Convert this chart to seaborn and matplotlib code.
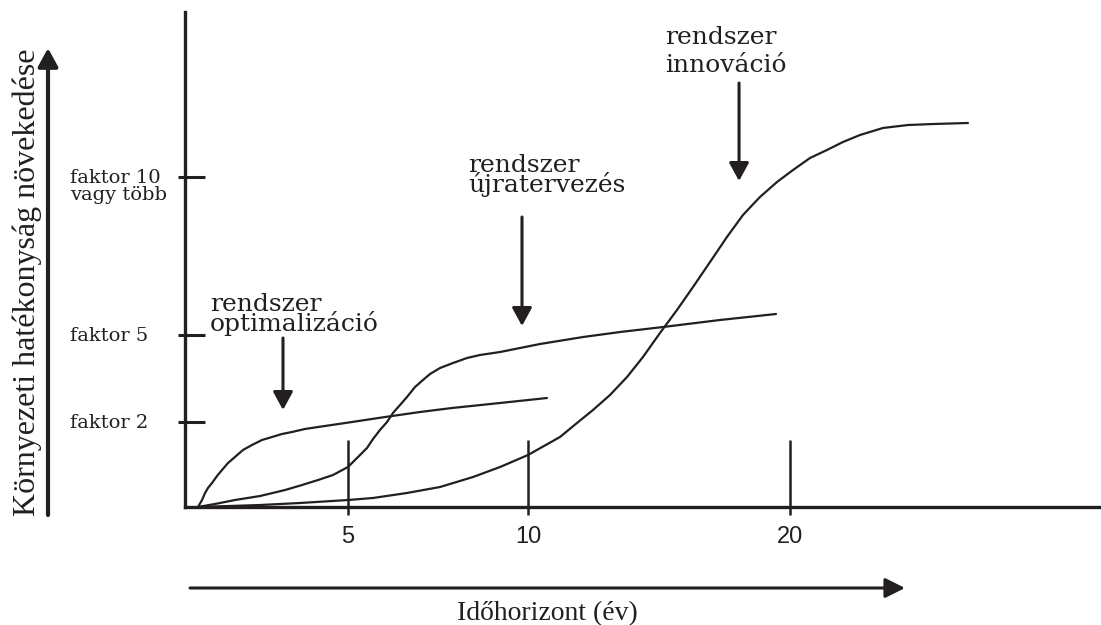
import numpy as np
import pandas as pd
import seaborn as sns
import matplotlib.pyplot as plt

# görbék (vízszintes: 0-100 időskála, függőleges: 0-100 hatékonyság)
opt_x = [1.42, 1.86, 2.19, 2.51, 2.95, 3.50, 4.04, 4.70, 5.46, 6.34, 7.32, 8.42, 9.51,
         10.60, 11.69, 13.11, 14.54, 18.25, 21.86, 25.68, 29.18, 34.43, 39.56]
opt_y = [0.0, 1.41, 2.83, 3.84, 4.85, 6.26, 7.47, 8.89, 10.10, 11.52, 12.53, 13.54, 14.14,
         14.75, 15.15, 15.76, 16.16, 17.17, 18.18, 19.19, 20.0, 21.01, 22.02]

ujra_x = [1.42, 3.28, 5.46, 8.20, 10.93, 12.79, 14.54, 16.17, 17.81, 18.91, 19.89, 20.55,
          21.31, 22.08, 22.73, 23.50, 24.26, 25.14, 26.01, 26.78, 27.87, 29.29, 30.82,
          32.24, 34.43, 38.80, 43.50, 47.54, 52.24, 58.47, 64.59]
ujra_y = [0.0, 0.61, 1.41, 2.22, 3.43, 4.44, 5.45, 6.46, 8.08, 10.10, 11.92, 13.74,
          15.56, 17.17, 18.99, 20.61, 22.22, 24.24, 25.66, 26.87, 28.08, 29.09, 30.10,
          30.71, 31.31, 32.93, 34.34, 35.35, 36.36, 37.78, 38.99]

inno_x = [1.42, 8.20, 12.57, 17.81, 20.55, 24.26, 27.87, 31.48, 34.43, 35.96, 37.49, 39.23,
          40.98, 42.84, 44.59, 46.45, 48.31, 50.05, 51.91, 53.77, 55.52, 57.38, 59.23,
          60.98, 62.84, 64.70, 66.45, 68.31, 70.16, 71.91, 73.77, 76.28, 79.02, 81.75, 85.57]
inno_y = [0.0, 0.40, 0.81, 1.41, 1.82, 2.83, 4.04, 6.06, 8.08, 9.29, 10.51, 12.32,
          14.14, 16.97, 19.60, 22.63, 26.26, 30.30, 35.15, 39.80, 44.44, 49.49, 54.55,
          58.99, 62.63, 65.66, 68.08, 70.51, 72.12, 73.74, 75.15, 76.57, 77.17, 77.37, 77.58]

xtick_pos = [17.81, 37.49, 66.12]
xtick_labels = ["5", "10", "20"]
ytick_pos = [17.17, 34.75, 66.67]
ytick_labels = ["faktor 2", "faktor 5", "faktor 10\nvagy több"]

ink = "#231f20"

df = pd.concat([
    pd.DataFrame({"x": opt_x, "y": opt_y, "curve": "optimalizáció"}),
    pd.DataFrame({"x": ujra_x, "y": ujra_y, "curve": "újratervezés"}),
    pd.DataFrame({"x": inno_x, "y": inno_y, "curve": "innováció"}),
])

sns.set_style("white")
plt.rcParams["font.family"] = ["DejaVu Serif", "DejaVu Sans"]

fig = plt.figure(figsize=(11.01, 6.25), dpi=100)
ax = fig.add_axes([185 / 1101, 118 / 625, 915 / 1101, 495 / 625])

sns.lineplot(data=df, x="x", y="y", units="curve", estimator=None, sort=False,
             color=ink, linewidth=1.6, ax=ax, legend=False)

ax.set_xlim(0, 100)
ax.set_ylim(0, 100)
ax.set_xlabel("")
ax.set_ylabel("")

for s in ["top", "right"]:
    ax.spines[s].set_visible(False)
for s in ["left", "bottom"]:
    ax.spines[s].set_color(ink)
    ax.spines[s].set_linewidth(2.4)

# tickek: befelé hosszú, kifelé rövid rész
ax.xaxis.remove_overlapping_locs = False
ax.yaxis.remove_overlapping_locs = False
ax.set_xticks(xtick_pos, xtick_labels, fontfamily="Liberation Sans", fontsize=17)
ax.set_xticks(xtick_pos, minor=True)
ax.set_yticks(ytick_pos, [""] * len(ytick_pos))
ax.set_yticks(ytick_pos, minor=True)
ax.tick_params(axis="x", which="major", bottom=True, direction="in", length=48, width=1.8,
               color=ink, pad=14, labelcolor=ink)
ax.tick_params(axis="x", which="minor", bottom=True, direction="out", length=5.5,
               width=1.8, color=ink)
ax.tick_params(axis="y", which="major", left=True, direction="in", length=14.4, width=2.2,
               color=ink)
ax.tick_params(axis="y", which="minor", left=True, direction="out", length=5, width=2.2,
               color=ink)

for yv, lab in zip(ytick_pos, ytick_labels):
    ax.text(-0.1257, yv + 1.7, lab, transform=ax.get_yaxis_transform(),
            ha="left", va="top", fontsize=14, color=ink, linespacing=0.95)

# feliratok nyilakkal
notes = [
    ("rendszer\noptimalizáció", 2.73, 43.2, 0.74, 10.71, 34.14, 19.6),
    ("rendszer\nújratervezés", 30.93, 71.3, 0.74, 36.83, 58.59, 36.57),
    ("rendszer\ninnováció", 52.46, 97.2, 1.28, 60.55, 85.66, 65.86),
]
for txt, tx, ty, ls, ax_x, y0, y1 in notes:
    ax.text(tx, ty, txt, ha="left", va="top", fontsize=18, color=ink, linespacing=ls)
    ax.annotate("", xy=(ax_x, y1), xytext=(ax_x, y0),
                arrowprops=dict(arrowstyle="-|>,head_length=0.55,head_width=0.3",
                                mutation_scale=20, color=ink, lw=2.2,
                                shrinkA=0, shrinkB=0))

# tengelyek feliratai és nagy nyilak
ax.annotate("", xy=(0.0436, 0.923), xytext=(0.0436, 0.176), xycoords="figure fraction",
            textcoords="figure fraction", annotation_clip=False,
            arrowprops=dict(arrowstyle="-|>,head_length=0.55,head_width=0.3",
                            mutation_scale=20, color=ink, lw=3, shrinkA=0, shrinkB=0))
ax.annotate("", xy=(0.822, 0.0592), xytext=(0.1726, 0.0592), xycoords="figure fraction",
            textcoords="figure fraction", annotation_clip=False,
            arrowprops=dict(arrowstyle="-|>,head_length=0.6,head_width=0.3",
                            mutation_scale=20, color=ink, lw=2.2, shrinkA=0, shrinkB=0))

fig.text(0.0245, 0.549, "Környezeti hatékonyság növekedése", rotation=90,
         ha="center", va="center", fontsize=23, fontfamily="Liberation Serif", color=ink)
fig.text(0.4968, 0.008, "Időhorizont (év)", ha="center", va="baseline",
         fontsize=20, fontfamily="Liberation Serif", color=ink)

fig.savefig("out.png", dpi=100)
